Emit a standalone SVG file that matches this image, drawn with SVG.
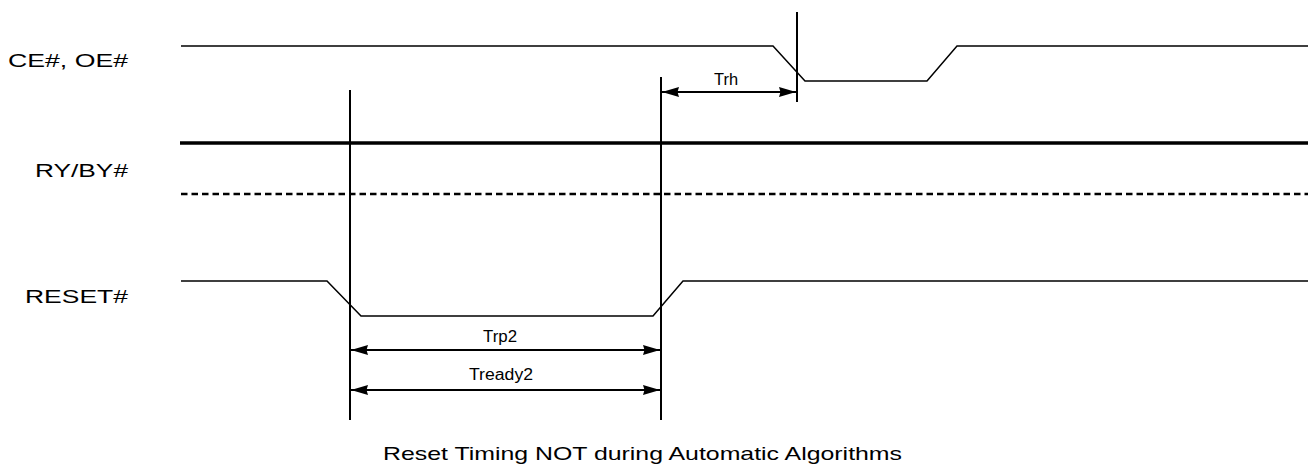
<svg xmlns="http://www.w3.org/2000/svg" width="1313" height="475" viewBox="0 0 1313 475">
  <style>
    .sig { fill: none; stroke: #000; stroke-width: 1.5; stroke-linejoin: miter; }
    .thick { fill: none; stroke: #000; stroke-width: 3.5; }
    .dash { fill: none; stroke: #000; stroke-width: 2.5; stroke-dasharray: 6.5 4; }
    .vert { stroke: #000; stroke-width: 2; }
    .dim { stroke: #000; stroke-width: 2; marker-start: url(#ah); marker-end: url(#ah); }
    .lbl { font-family: "Liberation Sans", Arial, sans-serif; font-size: 19px; fill: #000; }
    .small { font-family: "Liberation Sans", Arial, sans-serif; font-size: 16px; fill: #000; text-anchor: middle; }
  </style>
  <defs>
    <marker id="ah" viewBox="0 -6 18 12" refX="17" refY="0" markerWidth="18" markerHeight="12" markerUnits="userSpaceOnUse" orient="auto-start-reverse">
      <path d="M0,-5 L17,0 L0,5 L1.5,0 z" fill="#000"/>
    </marker>
  </defs>
  <rect width="1313" height="475" fill="#fff"/>

  <g id="ce-oe">
    <text class="lbl" x="8" y="67" textLength="120" lengthAdjust="spacingAndGlyphs">CE#, OE#</text>
    <polyline class="sig" points="181,46 773,46 805,81 927,81 957,46 1308,46"/>
  </g>

  <g id="ry-by">
    <text class="lbl" x="35" y="177" textLength="93" lengthAdjust="spacingAndGlyphs">RY/BY#</text>
    <line class="thick" x1="180" y1="143" x2="1308" y2="143"/>
    <line class="dash" x1="181" y1="194" x2="1308" y2="194"/>
  </g>

  <g id="reset">
    <text class="lbl" x="25" y="303" textLength="103" lengthAdjust="spacingAndGlyphs">RESET#</text>
    <polyline class="sig" points="181,281 327,281 361,316 653,316 683,281 1308,281"/>
  </g>

  <g id="connectors">
    <line class="vert" x1="797" y1="12" x2="797" y2="102"/>
    <line class="vert" x1="350" y1="90" x2="350" y2="420"/>
    <line class="vert" x1="661" y1="77" x2="661" y2="420"/>
    <line class="dim" x1="662" y1="92" x2="796" y2="92"/>
    <line class="dim" x1="351" y1="350" x2="660" y2="350"/>
    <line class="dim" x1="351" y1="390" x2="660" y2="390"/>
  </g>

  <g id="timing-labels">
    <text class="small" x="726" y="85" textLength="24" lengthAdjust="spacingAndGlyphs">Trh</text>
    <text class="small" x="500" y="342" textLength="34" lengthAdjust="spacingAndGlyphs">Trp2</text>
    <text class="small" x="501" y="380" textLength="64" lengthAdjust="spacingAndGlyphs">Tready2</text>
  </g>

  <g id="caption">
    <text class="lbl" x="383" y="460" textLength="519" lengthAdjust="spacingAndGlyphs">Reset Timing NOT during Automatic Algorithms</text>
  </g>
</svg>
